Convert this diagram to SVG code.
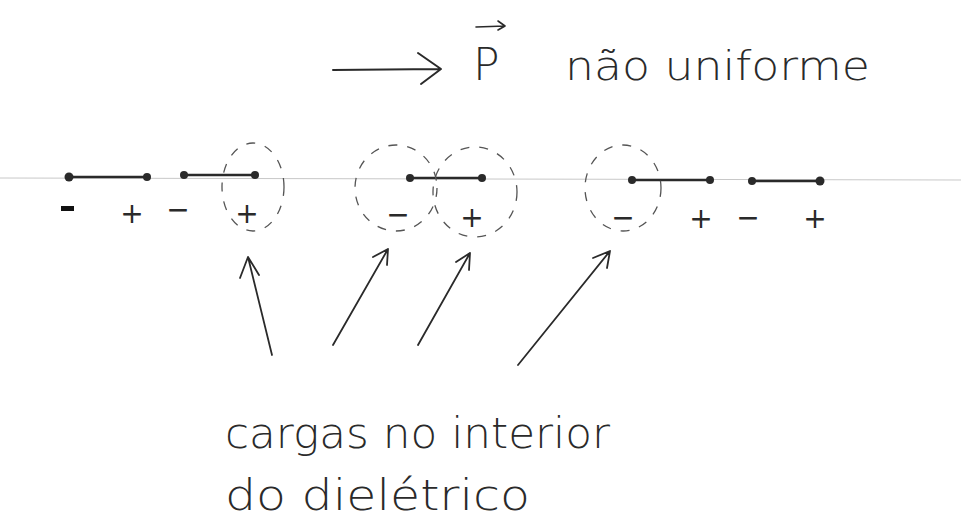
<svg xmlns="http://www.w3.org/2000/svg" width="961" height="525" viewBox="0 0 961 525">
<style>
.ink{stroke:#2a2a2a;stroke-linecap:round;stroke-linejoin:round;fill:none}
.dip{stroke-width:2.6}
.dot{fill:#2a2a2a}
.dash{stroke:#555;stroke-width:1.3;fill:none;stroke-dasharray:9 10}
.sign{font-family:"DejaVu Sans",sans-serif;font-size:28px;fill:#2a2a2a;text-anchor:middle}
.hand{font-family:"DejaVu Sans",sans-serif;fill:#2a2a2a;font-weight:300}
.arr{stroke-width:1.8}
</style>
<rect width="961" height="525" fill="#fff"/>
<line x1="0" y1="178" x2="961" y2="180" stroke="#c8c8c8" stroke-width="1"/>
<g id="title">
<path class="ink" d="M333 70 L440 69 M418 53 L441 69 L421 84" stroke-width="2"/>
<text class="hand" x="473" y="80" font-size="44">P</text>
<path class="ink" d="M476 27 L505 26 M498 21 L505 26 L498 30" stroke-width="1.6"/>
<text class="hand" x="565" y="80" font-size="40" textLength="305" lengthAdjust="spacingAndGlyphs">não uniforme</text>
</g>
<g id="dipole1">
<line class="ink dip" x1="68" y1="177" x2="148" y2="177"/>
<circle class="dot" cx="69" cy="177" r="4.5"/><circle class="dot" cx="147" cy="177" r="4"/>
<rect x="61" y="206" width="13" height="5" fill="#111"/>
<text class="sign" x="132" y="223">+</text>
</g>
<g id="dipole2">
<line class="ink dip" x1="183" y1="175" x2="256" y2="175"/>
<circle class="dot" cx="184" cy="175" r="4"/><circle class="dot" cx="255" cy="175" r="4"/>
<text class="sign" x="178" y="219">−</text>
<text class="sign" x="247" y="223">+</text>
</g>
<g id="dipole3">
<line class="ink dip" x1="409" y1="178" x2="482" y2="178"/>
<circle class="dot" cx="410" cy="178" r="4"/><circle class="dot" cx="482" cy="178" r="4"/>
<text class="sign" x="398" y="224">−</text>
<text class="sign" x="472" y="227">+</text>
</g>
<g id="dipole4">
<line class="ink dip" x1="632" y1="180" x2="710" y2="180"/>
<circle class="dot" cx="632" cy="180" r="4"/><circle class="dot" cx="710" cy="180" r="4"/>
<text class="sign" x="623" y="227">−</text>
<text class="sign" x="701" y="228">+</text>
</g>
<g id="dipole5">
<line class="ink dip" x1="752" y1="181" x2="820" y2="181"/>
<circle class="dot" cx="752" cy="181" r="4"/><circle class="dot" cx="820" cy="181" r="4.5"/>
<text class="sign" x="748" y="227">−</text>
<text class="sign" x="815" y="228">+</text>
</g>
<g id="circles">
<ellipse class="dash" cx="253" cy="187" rx="31" ry="44"/>
<ellipse class="dash" cx="396" cy="188" rx="41" ry="43"/>
<ellipse class="dash" cx="475" cy="192" rx="42" ry="45"/>
<ellipse class="dash" cx="623" cy="188" rx="38" ry="43"/>
</g>
<g id="connectors">
<path class="ink arr" d="M272 355 L248 257 M240 278 L248 257 L259 275"/>
<path class="ink arr" d="M333 345 L388 249 M373 257 L388 249 L387 265"/>
<path class="ink arr" d="M418 345 L470 253 M456 262 L470 253 L469 270"/>
<path class="ink arr" d="M518 365 L610 251 M593 258 L610 251 L607 268"/>
</g>
<g id="label">
<text class="hand" x="225" y="448" font-size="42" textLength="385" lengthAdjust="spacingAndGlyphs">cargas no interior</text>
<text class="hand" x="225" y="510" font-size="42" textLength="305" lengthAdjust="spacingAndGlyphs">do dielétrico</text>
</g>
</svg>
